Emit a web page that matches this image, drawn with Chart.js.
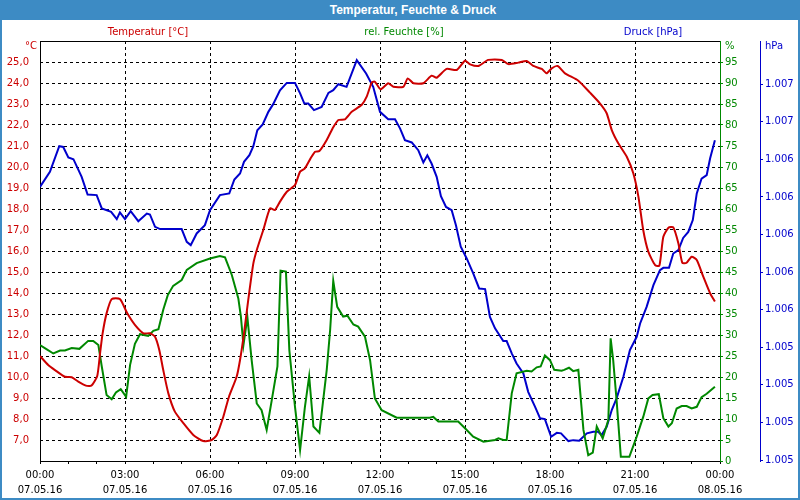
<!DOCTYPE html>
<html>
<head>
<meta charset="utf-8">
<script src="https://cdn.jsdelivr.net/npm/chart.js@4"></script>
<style>
html,body{margin:0;padding:0;background:#fff;}
#wrap{position:relative;width:800px;height:500px;overflow:hidden;background:#fff;}
#c{position:absolute;left:0;top:0;}
#title{position:absolute;left:0;top:0;width:774px;height:20px;padding-left:26px;background:#3d8bc4;color:#fff;
  font:bold 12px "Liberation Sans",Arial,sans-serif;line-height:20px;text-align:center;}
.bl{position:absolute;left:0;top:0;width:2px;height:500px;background:#3d8bc4;}
.br{position:absolute;right:0;top:0;width:2px;height:500px;background:#3d8bc4;}
.bb{position:absolute;left:0;bottom:0;width:800px;height:2px;background:#3d8bc4;}
</style>
</head>
<body>
<div id="wrap">
<canvas id="c" width="800" height="500"></canvas>
<div id="title">Temperatur, Feuchte &amp; Druck</div>
<div class="bl"></div><div class="br"></div><div class="bb"></div>
</div>
<script>
// ---- data (hours since 07.05.16 00:00) ----
const tempHours = [0,0.29,0.53,0.88,1.12,1.35,1.62,1.82,2.02,2.12,2.21,2.35,2.53,2.82,3.08,3.35,3.65,3.88,4.06,4.21,4.35,4.53,4.76,5.06,5.41,5.76,6.06,6.24,6.47,6.67,6.94,7.06,7.20,7.35,7.53,7.67,7.88,8.12,8.29,8.47,8.71,9.00,9.18,9.35,9.55,9.71,9.86,10.12,10.35,10.53,10.76,11.00,11.35,11.53,11.71,11.82,12.02,12.29,12.47,12.82,12.98,13.18,13.53,13.82,14.00,14.35,14.71,15.00,15.18,15.47,15.82,16.30,16.53,16.88,17.18,17.41,17.71,17.88,18.06,18.27,18.53,19.00,19.41,19.76,20.00,20.18,20.41,20.71,20.94,21.12,21.29,21.47,21.71,21.86,22.00,22.18,22.35,22.53,22.67,22.82,23.00,23.18,23.41,23.65,23.82];
const tempValues = [11.00,10.57,10.33,10.01,9.99,9.78,9.59,9.59,10.05,11.13,12.08,13.03,13.71,13.71,13.03,12.48,12.08,12.08,11.92,11.29,10.33,9.22,8.35,7.80,7.24,6.95,7.00,7.24,8.11,9.06,10.01,10.81,12.08,13.67,15.41,16.13,17.00,18.03,17.95,18.35,18.82,19.14,19.78,19.94,20.41,20.73,20.76,21.29,21.89,22.24,22.27,22.63,22.95,23.35,24.03,24.06,23.70,23.99,23.82,23.82,24.22,23.99,23.99,24.35,24.25,24.67,24.62,25.06,24.89,24.81,25.10,25.10,24.90,24.97,25.05,24.81,24.67,24.46,24.70,24.81,24.46,24.11,23.54,23.03,22.56,21.76,21.13,20.49,19.70,18.59,17.00,15.97,15.33,15.30,16.68,17.11,17.13,16.37,15.44,15.44,15.73,15.57,14.78,13.99,13.59];

const humHours = [0,0.24,0.47,0.71,0.88,1.12,1.39,1.70,1.88,2.06,2.18,2.35,2.53,2.68,2.85,3.04,3.18,3.35,3.53,3.82,4.00,4.18,4.35,4.51,4.70,5.00,5.18,5.53,6.00,6.35,6.53,6.77,7.00,7.09,7.18,7.32,7.47,7.65,7.82,8.00,8.18,8.38,8.49,8.68,8.80,9.00,9.18,9.35,9.50,9.65,9.86,10.12,10.24,10.35,10.49,10.70,10.85,11.06,11.23,11.47,11.65,11.82,12.06,12.59,13.76,13.88,14.06,14.76,15.00,15.29,15.65,16.06,16.18,16.35,16.47,16.65,16.82,17.18,17.35,17.53,17.67,17.82,18.00,18.15,18.41,18.50,18.67,18.82,19.00,19.18,19.35,19.51,19.65,19.74,19.86,20.06,20.14,20.23,20.35,20.50,20.80,21.06,21.29,21.47,21.62,21.84,22.00,22.18,22.30,22.47,22.65,22.82,23.00,23.18,23.35,23.53,23.82];
const humValues = [27.6,26.6,25.6,26.3,26.3,26.9,26.7,28.6,28.6,27.6,22.5,15.7,14.7,16.3,17.1,15.3,22.9,27.9,30.2,29.8,31.0,31.4,36.0,39.5,41.7,43.1,45.5,47.1,48.2,48.8,48.5,44.3,38.7,34.4,27.6,34.2,24.0,13.7,12.1,7.4,14.5,22.5,45.3,45.1,26.4,12.9,2.6,12.9,20.2,8.2,6.7,21.7,31.2,42.9,36.7,34.4,34.6,32.5,32.0,29.6,24.0,14.9,12.1,10.3,10.3,10.5,9.4,9.4,7.8,5.8,4.6,5.0,5.4,5.0,5.0,16.1,20.9,21.5,21.3,22.3,22.5,25.1,24.0,21.7,21.5,21.7,22.2,21.4,21.7,7.4,1.4,2.0,8.2,7.0,5.4,9.8,29.2,24.0,14.5,1.0,1.0,5.8,10.5,14.9,15.7,15.9,10.2,8.2,9.0,12.5,13.1,13.1,12.5,12.9,15.2,16.0,17.7];

const presHours = [0,0.35,0.68,0.82,1.00,1.18,1.47,1.68,2.00,2.18,2.51,2.71,2.82,3.00,3.20,3.47,3.77,3.88,4.06,4.24,5.00,5.18,5.32,5.53,5.82,6.00,6.35,6.68,6.86,7.06,7.20,7.39,7.53,7.67,7.86,8.06,8.23,8.47,8.71,9.00,9.18,9.33,9.47,9.67,9.94,10.18,10.35,10.53,10.82,11.18,11.51,11.76,12.00,12.29,12.53,12.71,12.88,13.12,13.35,13.53,13.67,13.82,14.00,14.15,14.33,14.53,14.68,14.85,15.06,15.29,15.50,15.71,15.88,16.06,16.35,16.47,16.65,16.82,17.06,17.23,17.47,17.65,17.82,18.04,18.24,18.39,18.65,18.82,19.03,19.30,19.53,19.70,19.82,20.00,20.18,20.35,20.59,20.82,21.06,21.18,21.41,21.65,21.88,22.00,22.20,22.35,22.53,22.70,22.88,23.04,23.18,23.35,23.53,23.65,23.82];
const presValues = [1006.254,1006.334,1006.470,1006.466,1006.410,1006.401,1006.307,1006.213,1006.210,1006.139,1006.121,1006.082,1006.118,1006.082,1006.124,1006.071,1006.112,1006.107,1006.041,1006.029,1006.029,1005.961,1005.944,1006.006,1006.050,1006.130,1006.210,1006.219,1006.293,1006.325,1006.387,1006.422,1006.470,1006.555,1006.586,1006.653,1006.694,1006.768,1006.807,1006.807,1006.751,1006.697,1006.697,1006.662,1006.679,1006.754,1006.768,1006.800,1006.786,1006.928,1006.857,1006.786,1006.653,1006.614,1006.614,1006.564,1006.502,1006.490,1006.449,1006.384,1006.422,1006.378,1006.307,1006.204,1006.147,1006.130,1006.050,1005.935,1005.873,1005.793,1005.713,1005.710,1005.562,1005.501,1005.433,1005.433,1005.368,1005.314,1005.261,1005.163,1005.084,1005.022,1005.018,1004.924,1004.945,1004.942,1004.901,1004.906,1004.903,1004.942,1004.951,1004.951,1004.933,1004.977,1005.066,1005.128,1005.243,1005.385,1005.456,1005.527,1005.615,1005.731,1005.811,1005.823,1005.823,1005.899,1005.917,1005.982,1006.014,1006.077,1006.219,1006.298,1006.316,1006.405,1006.502];

// ---- axis ticks / labels ----
const xTickHours = [0,3,6,9,12,15,18,21,24];
const xTickTimes = ['00:00','03:00','06:00','09:00','12:00','15:00','18:00','21:00','00:00'];
const xTickDates = ['07.05.16','07.05.16','07.05.16','07.05.16','07.05.16','07.05.16','07.05.16','07.05.16','08.05.16'];
const tempTicks = [7,8,9,10,11,12,13,14,15,16,17,18,19,20,21,22,23,24,25];
const humTicks = [0,5,10,15,20,25,30,35,40,45,50,55,60,65,70,75,80,85,90,95];
const presTicks = [1004.8,1005.0,1005.2,1005.4,1005.6,1005.8,1006.0,1006.2,1006.4,1006.6,1006.8];
const seriesNames = ['Temperatur [°C]','rel. Feuchte [%]','Druck [hPa]'];
const unitLabels = ['°C','%','hPa'];

const RED = '#cc0000', GREEN = '#008800', BLUE = '#0000cc';
const FONT = {family:'"DejaVu Sans", Verdana, sans-serif', size:10};

const pts = (xs, ys) => xs.map((x, i) => ({x, y: ys[i]}));
const setTicks = vals => scale => { scale.ticks = vals.map(v => ({value: v})); };

const decor = {
  id: 'decor',
  afterDraw(chart) {
    const {ctx, chartArea: a, scales} = chart;
    ctx.save();
    ctx.strokeStyle = '#000'; ctx.lineWidth = 1;
    ctx.beginPath(); ctx.moveTo(a.left, a.top + 0.5); ctx.lineTo(a.right, a.top + 0.5); ctx.stroke();
    ctx.font = '10px "DejaVu Sans", Verdana, sans-serif';
    ctx.textBaseline = 'middle';
    ctx.textAlign = 'center';
    ctx.fillStyle = RED;   ctx.fillText(seriesNames[0], 148, 32);
    ctx.fillStyle = GREEN; ctx.fillText(seriesNames[1], 404, 32);
    ctx.fillStyle = BLUE;  ctx.fillText(seriesNames[2], 653, 32);
    ctx.textAlign = 'right'; ctx.fillStyle = RED;
    ctx.fillText(unitLabels[0], scales.yT.right - 3, a.top + 5);
    ctx.textAlign = 'left'; ctx.fillStyle = GREEN;
    ctx.fillText(unitLabels[1], scales.yH.left + 5, a.top + 5);
    ctx.fillStyle = BLUE;
    ctx.fillText(unitLabels[2], scales.yP.left + 5, a.top + 5);
    ctx.restore();
  }
};

new Chart(document.getElementById('c'), {
  type: 'line',
  data: {
    datasets: [
      {label: seriesNames[0], data: pts(tempHours, tempValues), yAxisID: 'yT', borderColor: RED, borderWidth: 2, pointRadius: 0, tension: 0.2, fill: false},
      {label: seriesNames[1], data: pts(humHours, humValues), yAxisID: 'yH', borderColor: GREEN, borderWidth: 2, pointRadius: 0, tension: 0, fill: false},
      {label: seriesNames[2], data: pts(presHours, presValues), yAxisID: 'yP', borderColor: BLUE, borderWidth: 2, pointRadius: 0, tension: 0, fill: false}
    ]
  },
  options: {
    responsive: false, animation: false, devicePixelRatio: 1,
    layout: {padding: {top: 41, left: 0, right: 0, bottom: 0}},
    plugins: {legend: {display: false}, title: {display: false}, tooltip: {enabled: false}},
    scales: {
      x: {
        type: 'linear', position: 'bottom', min: 0, max: 24,
        afterBuildTicks: setTicks([...Array(25).keys()]),
        afterFit: s => { s.height = 39; },
        grid: {
          color: c => (c.tick && c.tick.value % 3 === 0 && c.tick.value > 0 && c.tick.value < 24) ? '#000' : 'rgba(0,0,0,0)',
          tickColor: '#000', tickLength: 3, lineWidth: 1, tickBorderDash: []
        },
        border: {color: '#000', dash: [3, 3], width: 1},
        ticks: {
          autoSkip: false, maxRotation: 0, minRotation: 0, padding: 4, color: '#000',
          font: {...FONT, lineHeight: 1.5},
          callback: v => { const i = xTickHours.indexOf(v); return i < 0 ? '' : [xTickTimes[i], xTickDates[i]]; }
        }
      },
      yT: {
        type: 'linear', position: 'left', min: 6, max: 26,
        afterBuildTicks: setTicks(tempTicks),
        afterFit: s => { s.width = 40; },
        grid: {display: false},
        border: {color: '#000', width: 1},
        ticks: {color: RED, padding: 3, font: FONT, callback: v => v.toFixed(1).replace('.', ',')}
      },
      yH: {
        type: 'linear', position: 'right', min: 0, max: 100, weight: 0,
        afterBuildTicks: setTicks(humTicks),
        afterFit: s => { s.width = 40; },
        grid: {
          color: c => (c.tick && c.tick.value > 0) ? '#000' : 'rgba(0,0,0,0)',
          tickColor: GREEN, tickLength: 3, lineWidth: 1, tickBorderDash: []
        },
        border: {color: GREEN, dash: [3, 3], width: 1},
        ticks: {color: GREEN, padding: 2, font: FONT, callback: v => String(v)}
      },
      yP: {
        type: 'linear', position: 'right', min: 1004.795, max: 1007.03, weight: 1,
        afterBuildTicks: setTicks(presTicks),
        afterFit: s => { s.width = 40; },
        grid: {drawOnChartArea: false, color: BLUE, tickColor: BLUE, tickLength: 3},
        border: {color: BLUE, width: 1},
        ticks: {color: BLUE, padding: 2, font: FONT, callback: v => (Math.round(v) / 1000).toFixed(3)}
      }
    }
  },
  plugins: [decor]
});
</script>
</body>
</html>
